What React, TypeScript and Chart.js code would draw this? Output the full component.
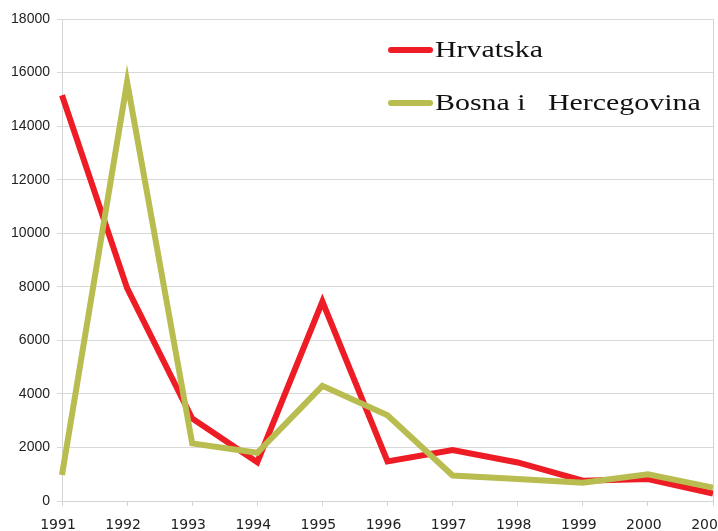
import React, { useEffect, useRef } from "react";
import { Chart, registerables } from "chart.js";

Chart.register(...registerables);

const years = ["1991", "1992", "1993", "1994", "1995", "1996", "1997", "1998", "1999", "2000", "2001"];
const hrvatska = [15150, 7950, 3080, 1450, 7450, 1480, 1900, 1440, 760, 820, 280];
const bosna = [970, 15650, 2150, 1800, 4300, 3200, 950, 820, 680, 1000, 500];
const yTicks = [0, 2000, 4000, 6000, 8000, 10000, 12000, 14000, 16000, 18000];
const seriesNames = ["Hrvatska", "Bosna i   Hercegovina"];
const RED = "#ee1c25";
const OLIVE = "#b9bd4f";

const legendPlugin = {
  id: "customLegend",
  afterDraw(chart: any) {
    const ctx = chart.ctx;
    const area = chart.chartArea;
    ctx.save();
    ctx.strokeStyle = "#d4d4d4";
    ctx.lineWidth = 1;
    ctx.beginPath();
    ctx.moveTo(area.right + 0.5, area.top);
    ctx.lineTo(area.right + 0.5, area.bottom + 5);
    ctx.stroke();
    ctx.restore();

    const items = [
      { name: seriesNames[0], color: RED, y: 50 },
      { name: seriesNames[1], color: OLIVE, y: 103 },
    ];
    const x0 = 388;
    for (const it of items) {
      ctx.save();
      ctx.strokeStyle = it.color;
      ctx.lineWidth = 6;
      ctx.lineCap = "round";
      ctx.beginPath();
      ctx.moveTo(x0 + 3, it.y);
      ctx.lineTo(x0 + 42, it.y);
      ctx.stroke();
      ctx.translate(x0 + 47, it.y);
      ctx.scale(1.3, 1);
      ctx.fillStyle = "#111";
      ctx.font = "23px 'Liberation Serif', 'Times New Roman', serif";
      ctx.textBaseline = "middle";
      ctx.textAlign = "left";
      ctx.fillText(it.name, 0, 1);
      ctx.restore();
    }
  },
};

export default function App() {
  const ref = useRef<HTMLCanvasElement | null>(null);
  useEffect(() => {
    if (!ref.current) return;
    const chart = new Chart(ref.current, {
      type: "line",
      data: {
        labels: years,
        datasets: [
          {
            label: seriesNames[0],
            data: hrvatska,
            borderColor: RED,
            backgroundColor: RED,
            borderWidth: 6,
            pointRadius: 0,
            tension: 0,
            borderJoinStyle: "miter",
            order: 1,
          },
          {
            label: seriesNames[1],
            data: bosna,
            borderColor: OLIVE,
            backgroundColor: OLIVE,
            borderWidth: 6,
            pointRadius: 0,
            tension: 0,
            borderJoinStyle: "miter",
            order: 0,
          },
        ],
      },
      options: {
        animation: false,
        responsive: false,
        maintainAspectRatio: false,
        layout: { padding: { top: 19, right: 5, left: 0, bottom: 0 } },
        plugins: { legend: { display: false }, tooltip: { enabled: false } },
        scales: {
          x: {
            offset: false,
            grid: { drawOnChartArea: false, color: "#d4d4d4", tickLength: 5 },
            border: { color: "#d4d4d4" },
            ticks: {
              color: "#222",
              font: { family: "'DejaVu Sans', sans-serif", size: 14 },
              padding: 11,
              labelOffset: -4,
              maxRotation: 0,
              autoSkip: false,
            },
            afterFit: (s: any) => {
              s.height = 30;
              s.paddingLeft = 0;
              s.paddingRight = 0;
            },
          },
          y: {
            min: 0,
            max: 18000,
            afterBuildTicks: (s: any) => {
              s.ticks = yTicks.map((v) => ({ value: v }));
            },
            grid: { color: "#d8d8d8", tickLength: 5 },
            border: { color: "#d4d4d4" },
            ticks: {
              color: "#222",
              font: { family: "'Liberation Sans', Arial, sans-serif", size: 14 },
              padding: 7,
              callback: (v: any) => String(v),
            },
            afterFit: (s: any) => {
              s.width = 62;
              s.paddingTop = 0;
              s.paddingBottom = 0;
            },
          },
        },
      },
      plugins: [legendPlugin],
    });
    return () => chart.destroy();
  }, []);
  return (
    <div style={{ position: "fixed", left: 0, top: 0, width: 718, height: 531, background: "#fff" }}>
      <canvas ref={ref} width={718} height={531} style={{ display: "block" }} />
    </div>
  );
}
